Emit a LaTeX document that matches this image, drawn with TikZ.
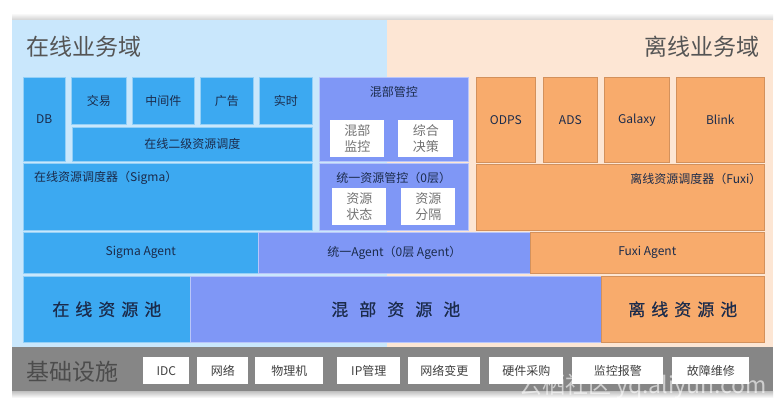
\documentclass[tikz,border=0pt]{standalone}
\usepackage{fontspec}
\setmainfont{Noto Sans CJK SC}
\newfontfamily\poolfont[FakeBold=0.5]{Noto Sans CJK SC}
\definecolor{cpanelb}{HTML}{C9E7FC}
\definecolor{cpanelo}{HTML}{FDE6D4}
\definecolor{cblue}{HTML}{3CA9F1}
\definecolor{cpur}{HTML}{7F97F6}
\definecolor{corg}{HTML}{F8AB6C}
\definecolor{cband}{HTML}{868686}
\definecolor{ctxt}{HTML}{1B2B4B}
\definecolor{ctitle}{HTML}{555555}
\newcommand\bx[7]{\node[#6, minimum width={(#4-#2)*1pt}, minimum height={(#5-#3)*1pt}] (#1) at (#2,#3) {#7};}
\begin{document}
\begin{tikzpicture}[x=1pt,y=-1pt,
  box/.style={anchor=north west, inner sep=0pt, font=\fontsize{12}{14}\selectfont, text=ctxt, line width=0.6pt},
  bbox/.style={box, fill=cblue, draw=cblue!55!white},
  pbox/.style={box, fill=cpur, draw=cpur!55!white},
  obox/.style={box, fill=corg, draw=corg!85!black},
  wbox/.style={box, fill=white, align=center, font=\fontsize{13}{16}\selectfont, text=black!55},
  ibox/.style={box, fill=white, font=\fontsize{12}{13}\selectfont, text=black!75},
  lbl/.style={inner sep=0pt, font=\fontsize{12}{14}\selectfont, text=ctxt},
  pool/.style={font=\fontsize{17}{19}\poolfont},
  ttl/.style={inner sep=0pt, font=\fontsize{23}{25}\selectfont, text=ctitle}]
\useasboundingbox (0,0) rectangle (782,408);
\fill[white] (0,0) rectangle (782,408);
\shade[top color=white, bottom color=black!18] (12,13) rectangle (773,20);
\shade[top color=black!25, bottom color=white] (12,391) rectangle (773,398);
% panels
\fill[cpanelb] (12,20) rectangle (387,347);
\fill[cpanelo] (387,20) rectangle (773,347);
\node[ttl, anchor=west] (tonl) at (26,47) {在线业务域};
\node[ttl, anchor=east] (toff) at (760,47) {离线业务域};
% online
\bx{db}{23}{77}{65}{161}{bbox}{DB}
\bx{jy}{71}{77}{126}{124}{bbox}{交易}
\bx{zjj}{132}{77}{194}{124}{bbox}{中间件}
\bx{gg}{200}{77}{253}{124}{bbox}{广告}
\bx{ss}{259}{77}{312}{124}{bbox}{实时}
\bx{ej}{72}{127}{312}{161}{bbox}{在线二级资源调度}
\bx{sigma}{23}{163}{312}{230}{bbox}{}
\node[lbl, anchor=west] (sigmat) at ([xshift=11pt,yshift=-15pt]sigma.north west) {在线资源调度器（Sigma）};
% mixed
\bx{hbgk}{319}{77}{468}{161}{pbox}{}
\node[lbl] (hbgkt) at ([yshift=-15pt]hbgk.north) {混部管控};
\bx{hbjk}{330}{120}{384}{157}{wbox}{混部\\监控}
\bx{zhjc}{398}{120}{453}{157}{wbox}{综合\\决策}
\bx{tyzy}{319}{163}{468}{230}{pbox}{}
\node[lbl] (tyzyt) at ([yshift=-15pt]tyzy.north) {统一资源管控（0层）};
\bx{zyzt}{332}{188}{386}{225}{wbox}{资源\\状态}
\bx{zyfg}{401}{188}{455}{225}{wbox}{资源\\分隔}
% offline
\bx{odps}{476}{77}{535}{162}{obox}{ODPS}
\bx{ads}{543}{77}{597}{162}{obox}{ADS}
\bx{galaxy}{604}{77}{669}{162}{obox}{Galaxy}
\bx{blink}{676}{77}{764}{162}{obox}{Blink}
\bx{fuxi}{476}{164}{764}{230}{obox}{}
\node[lbl, anchor=east] (fuxit) at ([xshift=-3pt,yshift=-15pt]fuxi.north east) {离线资源调度器（Fuxi）};
% agents
\bx{sa}{23}{232}{258}{273}{bbox}{Sigma Agent}
\bx{ua}{258}{232}{530}{273}{pbox}{统一Agent（0层 Agent）}
\bx{fa}{530}{232}{764}{273}{obox}{Fuxi Agent}
% pools
\bx{p1}{23}{276}{190}{342}{bbox,pool}{在\kern6pt 线\kern6pt 资\kern6pt 源\kern6pt 池}
\bx{p2}{190}{276}{601}{342}{pbox,pool}{混\kern11pt 部\kern11pt 资\kern11pt 源\kern11pt 池}
\bx{p3}{601}{276}{764}{342}{obox,pool}{离\kern6pt 线\kern6pt 资\kern6pt 源\kern6pt 池}
% base
\fill[cband] (12,347) rectangle (773,391);
\node[inner sep=0pt, anchor=west, font=\fontsize{23}{25}\selectfont, text=black!70] (jc) at (26,372) {基础设施};
\bx{idc}{143}{357}{189}{384}{ibox}{IDC}
\bx{wl}{197}{357}{248}{384}{ibox}{网络}
\bx{wlj}{255}{357}{323}{384}{ibox}{物理机}
\bx{ip}{337}{357}{400}{384}{ibox}{IP管理}
\bx{wlbg}{408}{357}{480}{384}{ibox}{网络变更}
\bx{yjcg}{489}{357}{563}{384}{ibox}{硬件采购}
\bx{jkbj}{572}{357}{663}{384}{ibox}{监控报警}
\bx{gzwx}{672}{357}{749}{384}{ibox}{故障维修}
\node[text=white, opacity=0.6, inner sep=0pt, font=\fontsize{23}{24}\selectfont] (wm) at (643,386) {云栖社区 yq.aliyun.com};
\end{tikzpicture}
\end{document}
